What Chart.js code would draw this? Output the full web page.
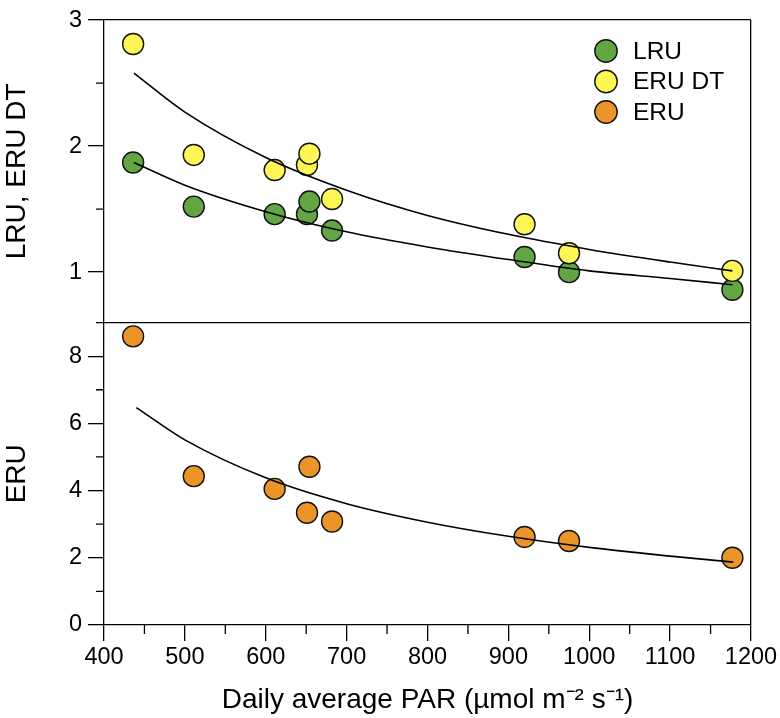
<!DOCTYPE html>
<html>
<head>
<meta charset="utf-8">
<script src="https://cdn.jsdelivr.net/npm/chart.js@4.4.0/dist/chart.umd.min.js"></script>
<style>
  html, body { margin: 0; padding: 0; background: #fff; }
  #wrap { position: relative; width: 780px; height: 718px; }
</style>
</head>
<body>
<div id="wrap"><canvas id="parChart" width="780" height="718"></canvas></div>
<script>
// PAR values of the sampled days (x)
const par = [436, 511, 611, 651, 654, 682, 920, 975, 1177];

const lru   = [1.87, 1.52, 1.46, 1.46, 1.56, 1.33, 1.12, 1.00, 0.86];
const eruDT = [2.81, 1.93, 1.81, 1.85, 1.94, 1.58, 1.38, 1.15, 1.01];
const eru   = [8.59, 4.43, 4.05, 3.34, 4.71, 3.08, 2.62, 2.50, 2.00];

// fitted curves
const fitX     = [437, 500, 600, 700, 800, 900, 1000, 1100, 1177];
const fitLRU   = [1.87, 1.69, 1.48, 1.32, 1.20, 1.10, 1.01, 0.95, 0.90];
const fitERUDT = [2.58, 2.27, 1.91, 1.65, 1.45, 1.30, 1.18, 1.08, 1.01];
const fitERUx  = [440, 500, 600, 700, 800, 900, 1000, 1100, 1178];
const fitERU   = [6.47, 5.51, 4.38, 3.61, 3.06, 2.64, 2.31, 2.05, 1.87];

// tick positions
const xMajor = [400, 500, 600, 700, 800, 900, 1000, 1100, 1200];
const xMinor = [450, 550, 650, 750, 850, 950, 1050, 1150];
const topMajor = [1, 2, 3];
const topMinor = [1.5, 2.5];
const botMajor = [0, 2, 4, 6, 8];
const botMinor = [1, 3, 5, 7, 9];

const legendNames = ['LRU', 'ERU DT', 'ERU'];
const colors = { lru: '#63a443', eruDT: '#fdf654', eru: '#eb9429' };

const FONT = 'Liberation Sans, Arial, Helvetica, sans-serif';

function pts(xs, ys) {
    return xs.map((x, i) => ({ x: x, y: ys[i] }));
}

function pointSet(label, ys, color, axis, order) {
    return {
        type: 'scatter',
        label: label,
        data: pts(par, ys),
        yAxisID: axis,
        backgroundColor: color,
        borderColor: '#111',
        borderWidth: 1.4,
        pointRadius: 10.5,
        pointHoverRadius: 10.5,
        order: order
    };
}

function fitSet(xs, ys, axis) {
    return {
        type: 'line',
        label: 'fit',
        data: pts(xs, ys),
        yAxisID: axis,
        borderColor: '#000',
        borderWidth: 1.6,
        pointRadius: 0,
        fill: false,
        cubicInterpolationMode: 'monotone',
        order: 0
    };
}

// minor ticks and legend drawn on top of the chart
const extras = {
    id: 'extras',
    afterDraw(chart) {
        const c = chart.ctx;
        const sx = chart.scales.x, st = chart.scales.yT, sb = chart.scales.yB;
        c.save();
        c.strokeStyle = '#000';
        c.lineWidth = 1.3;
        c.beginPath();
        xMinor.forEach(v => {
            const p = sx.getPixelForValue(v);
            c.moveTo(p, sx.top); c.lineTo(p, sx.top + 9);
        });
        topMinor.forEach(v => {
            const p = st.getPixelForValue(v);
            c.moveTo(st.right, p); c.lineTo(st.right - 8, p);
        });
        botMinor.forEach(v => {
            const p = sb.getPixelForValue(v);
            c.moveTo(sb.right, p); c.lineTo(sb.right - 8, p);
        });
        c.stroke();

        // legend
        const fills = [colors.lru, colors.eruDT, colors.eru];
        const lx = 606, ly = 51, gap = 30.5;
        c.font = '24.5px ' + FONT;
        c.textBaseline = 'middle';
        c.textAlign = 'left';
        legendNames.forEach((name, i) => {
            const y = ly + i * gap;
            c.beginPath();
            c.arc(lx, y, 11.2, 0, Math.PI * 2);
            c.fillStyle = fills[i];
            c.fill();
            c.lineWidth = 1.4;
            c.strokeStyle = '#111';
            c.stroke();
            c.fillStyle = '#000';
            c.fillText(name, lx + 27, y + 1);
        });
        c.restore();
    }
};

const tickFont = { family: FONT, size: 23.5 };

function yAxis(min, max, major, title, isBottom) {
    return {
        type: 'linear',
        position: 'left',
        stack: 'panels',
        stackWeight: 1,
        min: min,
        max: max,
        afterBuildTicks: s => {
            const vals = isBottom ? major.concat([max]) : major;
            s.ticks = vals.map(v => ({ value: v }));
        },
        afterFit: s => { s.width = 104; },
        ticks: {
            color: '#000',
            font: tickFont,
            padding: 6,
            callback: v => (major.includes(v) ? String(v) : '')
        },
        grid: {
            color: ctx => (ctx.tick && ctx.tick.value === max ? '#000' : 'rgba(0,0,0,0)'),
            lineWidth: 1.3,
            tickLength: 16,
            tickColor: ctx => (ctx.tick && major.includes(ctx.tick.value) ? '#000' : 'rgba(0,0,0,0)'),
            tickWidth: 1.3
        },
        border: { display: true, color: '#000', width: 1.3 },
        title: {
            display: true,
            text: title,
            color: '#000',
            font: { family: FONT, size: 28 },
            padding: { top: 0, bottom: 0 }
        }
    };
}

new Chart(document.getElementById('parChart'), {
    type: 'scatter',
    data: {
        datasets: [
            fitSet(fitX, fitLRU, 'yT'),
            fitSet(fitX, fitERUDT, 'yT'),
            fitSet(fitERUx, fitERU, 'yB'),
            pointSet('ERU DT', eruDT, colors.eruDT, 'yT', 1),
            pointSet('LRU', lru, colors.lru, 'yT', 2),
            pointSet('ERU', eru, colors.eru, 'yB', 3)
        ]
    },
    options: {
        responsive: false,
        animation: false,
        layout: { padding: { top: 16, right: 29, left: 0, bottom: 0 } },
        plugins: {
            legend: { display: false },
            tooltip: { enabled: false }
        },
        scales: {
            x: {
                type: 'linear',
                min: 400,
                max: 1200,
                afterBuildTicks: s => { s.ticks = xMajor.map(v => ({ value: v })); },
                afterFit: s => { s.height = 93; },
                ticks: { color: '#000', font: tickFont, padding: 2, callback: v => String(v) },
                grid: {
                    color: ctx => (ctx.tick && ctx.tick.value === 1200 ? '#000' : 'rgba(0,0,0,0)'),
                    lineWidth: 1.3,
                    tickLength: 16,
                    tickColor: '#000',
                    tickWidth: 1.3
                },
                border: { display: true, color: '#000', width: 1.3 },
                title: {
                    display: true,
                    text: 'Daily average PAR (µmol m⁻² s⁻¹)',
                    color: '#000',
                    font: { family: FONT, size: 28 },
                    padding: { top: 0, bottom: 1 }
                }
            },
            // bottom panel listed first so it is laid out below the top panel
            yB: yAxis(0, 9, botMajor, 'ERU', true),
            yT: yAxis(0.6, 3, topMajor, 'LRU, ERU DT', false)
        }
    },
    plugins: [extras]
});
</script>
</body>
</html>
